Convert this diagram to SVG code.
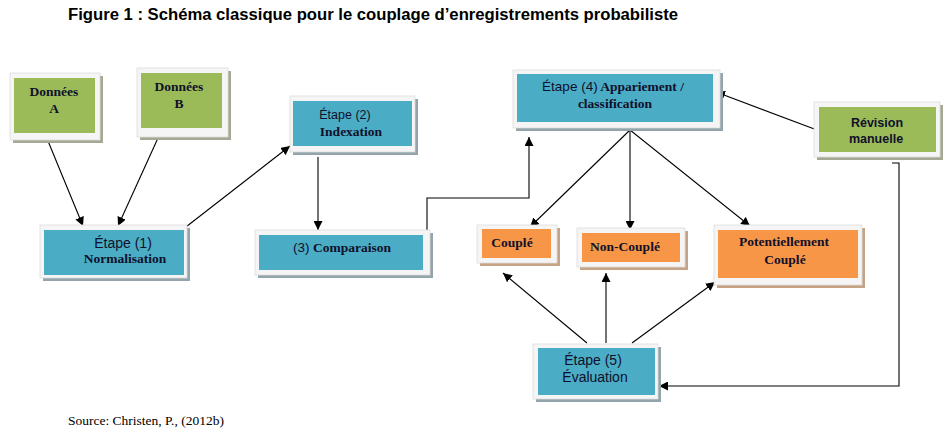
<svg xmlns="http://www.w3.org/2000/svg" width="952" height="435" viewBox="0 0 952 435">
<defs>
<marker id="ah" viewBox="0 0 10 10" refX="10" refY="5" markerWidth="9" markerHeight="9" markerUnits="userSpaceOnUse" orient="auto">
<path d="M0,0 L10,5 L0,10 z" fill="#000"/>
</marker>
<style>
.frame{fill:#f5f5f5;stroke:#dcdcdc;stroke-width:0.8}
.shb{fill:#93a4ab}.shg{fill:#a3a993}.sho{fill:#c6a385}
.blue{fill:#4bacc6}.green{fill:#9bbb59}.orange{fill:#f79646}
.serif{font-family:"Liberation Serif","DejaVu Serif",serif;font-weight:bold;font-size:13.5px;fill:#10102a;text-anchor:middle}
.sans{font-family:"Liberation Sans",Arial,sans-serif;font-size:13.5px;fill:#10102a;text-anchor:middle}
.conn{stroke:#000;stroke-width:1.1;fill:none}
</style>
</defs>
<rect width="952" height="435" fill="#fff"/>
<text x="68" y="20" font-family="'Liberation Sans',Arial,sans-serif" font-weight="bold" font-size="16" textLength="610" lengthAdjust="spacingAndGlyphs" fill="#000">Figure 1 : Schéma classique pour le couplage d’enregistrements probabiliste</text>

<g id="connectors">
<line class="conn" x1="48" y1="141" x2="83" y2="226" marker-end="url(#ah)"/>
<line class="conn" x1="158" y1="138" x2="118" y2="226" marker-end="url(#ah)"/>
<line class="conn" x1="182" y1="230" x2="290" y2="146" marker-end="url(#ah)"/>
<line class="conn" x1="318" y1="157" x2="318" y2="230" marker-end="url(#ah)"/>
<polyline class="conn" points="427,262 427,198 529,198 529,137" marker-end="url(#ah)"/>
<line class="conn" x1="630" y1="130" x2="530" y2="227" marker-end="url(#ah)"/>
<line class="conn" x1="630" y1="130" x2="630" y2="230" marker-end="url(#ah)"/>
<line class="conn" x1="630" y1="130" x2="750" y2="226" marker-end="url(#ah)"/>
<line class="conn" x1="817" y1="130" x2="716" y2="92" marker-end="url(#ah)"/>
<polyline class="conn" points="892,163 899,163 899,386 659,386" marker-end="url(#ah)"/>
<line class="conn" x1="587" y1="343" x2="503" y2="273" marker-end="url(#ah)"/>
<line class="conn" x1="606" y1="343" x2="606" y2="273" marker-end="url(#ah)"/>
<line class="conn" x1="632" y1="343" x2="715" y2="282" marker-end="url(#ah)"/>
</g>

<g id="donnees-a">
<rect class="shg" x="13" y="76" width="90" height="67"/>
<rect class="frame" x="10" y="73" width="90" height="67"/>
<rect class="green" x="14" y="78" width="81" height="55"/>
<text class="serif" x="54" y="96">Données</text>
<text class="serif" x="54" y="113">A</text>
</g>

<g id="donnees-b">
<rect class="shg" x="140" y="71" width="91" height="69"/>
<rect class="frame" x="137" y="68" width="91" height="69"/>
<rect class="green" x="141" y="73" width="81" height="55"/>
<text class="serif" x="179" y="91">Données</text>
<text class="serif" x="179" y="108">B</text>
</g>

<g id="etape1">
<rect class="shb" x="43" y="228" width="147" height="53"/>
<rect class="frame" x="40" y="225" width="147" height="53"/>
<rect class="blue" x="44" y="230" width="140" height="45"/>
<text class="sans" x="123" y="248" style="font-size:14px">Étape (1)</text>
<text class="serif" x="125" y="263">Normalisation</text>
</g>

<g id="etape2">
<rect class="shb" x="293" y="99" width="125" height="56"/>
<rect class="frame" x="290" y="96" width="125" height="56"/>
<rect class="blue" x="293" y="101" width="119" height="45"/>
<text class="sans" x="345" y="119" style="font-size:12.5px">Étape (2)</text>
<text class="serif" x="351" y="136">Indexation</text>
</g>

<g id="comparaison">
<rect class="shb" x="258" y="233" width="175" height="45"/>
<rect class="frame" x="255" y="230" width="175" height="45"/>
<rect class="blue" x="259" y="235" width="164" height="35"/>
<text class="serif" x="342" y="252"><tspan font-family="'Liberation Sans',Arial,sans-serif" font-weight="normal">(3)</tspan> Comparaison</text>
</g>

<g id="etape4">
<rect class="shb" x="516" y="73" width="207" height="58"/>
<rect class="frame" x="513" y="70" width="207" height="58"/>
<rect class="blue" x="517" y="74" width="196" height="48"/>
<text class="serif" x="613" y="91"><tspan font-family="'Liberation Sans',Arial,sans-serif" font-weight="normal">Étape (4)</tspan> Appariement /</text>
<text class="serif" x="615" y="108">classification</text>
</g>

<g id="revision">
<rect class="shg" x="817" y="105" width="126" height="55"/>
<rect class="frame" x="814" y="102" width="126" height="55"/>
<rect class="green" x="819" y="107" width="117" height="45"/>
<text class="sans" x="877" y="127" style="font-weight:bold;font-size:12.5px">Révision</text>
<text class="sans" x="876" y="143" style="font-weight:bold;font-size:12.5px">manuelle</text>
</g>

<g id="couple">
<rect class="sho" x="480" y="228" width="80" height="38"/>
<rect class="frame" x="477" y="225" width="80" height="38"/>
<rect class="orange" x="482" y="229" width="69" height="29"/>
<text class="serif" x="512" y="247">Couplé</text>
</g>

<g id="non-couple">
<rect class="sho" x="580" y="231" width="108" height="39"/>
<rect class="frame" x="577" y="228" width="108" height="39"/>
<rect class="orange" x="582" y="233" width="98" height="29"/>
<text class="serif" x="625" y="251">Non-Couplé</text>
</g>

<g id="potentiellement-couple">
<rect class="sho" x="717" y="228" width="148" height="60"/>
<rect class="frame" x="714" y="225" width="148" height="60"/>
<rect class="orange" x="718" y="230" width="140" height="48"/>
<text class="serif" x="784" y="246">Potentiellement</text>
<text class="serif" x="785" y="264">Couplé</text>
</g>

<g id="etape5">
<rect class="shb" x="536" y="347" width="125" height="55"/>
<rect class="frame" x="533" y="344" width="125" height="55"/>
<rect class="blue" x="538" y="348" width="117" height="47"/>
<text class="sans" x="593" y="365" style="font-size:14px">Étape (5)</text>
<text class="sans" x="595" y="382" style="font-size:14px">Évaluation</text>
</g>

<text x="68" y="425" font-family="'Liberation Serif','Times New Roman',serif" font-size="13.5" fill="#000">Source: Christen, P., (2012b)</text>
</svg>
